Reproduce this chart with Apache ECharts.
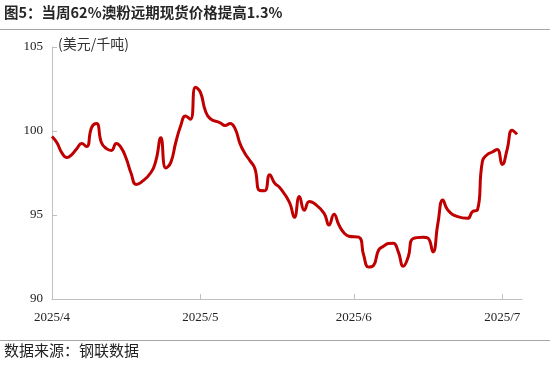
<!DOCTYPE html>
<html><head><meta charset="utf-8">
<script src="https://cdn.jsdelivr.net/npm/echarts@6/dist/echarts.min.js"></script>
<style>html,body{margin:0;padding:0;background:#fff}#c{width:550px;height:367px}</style>
</head><body><div id="c"></div>
<script>
const titleText = '图5：当周62%澳粉远期现货价格提高1.3%';
const unitText = '(美元/千吨)';
const sourceText = '数据来源：钢联数据';
const dates = ['2025-04-01','2025-04-02','2025-04-03','2025-04-04','2025-04-05','2025-04-06','2025-04-07','2025-04-08','2025-04-09','2025-04-10','2025-04-11','2025-04-12','2025-04-13','2025-04-14','2025-04-15','2025-04-16','2025-04-17','2025-04-18','2025-04-19','2025-04-21','2025-04-22','2025-04-23','2025-04-24','2025-04-25','2025-04-26','2025-04-27','2025-04-28','2025-04-29','2025-04-30','2025-05-01','2025-05-02','2025-05-03','2025-05-05','2025-05-06','2025-05-07','2025-05-08','2025-05-09','2025-05-10','2025-05-11','2025-05-12','2025-05-13','2025-05-14','2025-05-15','2025-05-16','2025-05-17','2025-05-19','2025-05-20','2025-05-21','2025-05-22','2025-05-23','2025-05-24','2025-05-26','2025-05-27','2025-05-28','2025-05-29','2025-05-30','2025-05-31','2025-06-02','2025-06-03','2025-06-04','2025-06-05','2025-06-06','2025-06-07','2025-06-08','2025-06-09','2025-06-10','2025-06-11','2025-06-12','2025-06-13','2025-06-15','2025-06-16','2025-06-17','2025-06-18','2025-06-19','2025-06-20','2025-06-22','2025-06-24','2025-06-25','2025-06-26','2025-06-27','2025-06-28','2025-06-29','2025-06-30','2025-07-01','2025-07-02','2025-07-03','2025-07-04'];
const prices = [99.67,99.3,98.7,98.42,98.6,98.95,99.25,99.07,100.2,100.44,99.3,98.95,98.84,99.25,99.0,98.36,97.47,96.82,96.94,97.53,98.24,99.6,97.8,98.12,99.3,100.3,100.9,100.7,102.6,102.3,101.2,100.73,100.49,100.32,100.44,100.14,99.25,98.66,98.24,97.77,96.46,96.45,97.4,96.9,96.64,95.75,94.86,96.1,95.28,95.81,95.69,95.1,94.4,95.05,94.4,93.95,93.74,93.68,92.6,91.9,92.0,92.9,93.14,93.3,93.32,92.8,91.95,92.5,93.6,93.68,93.62,92.8,94.5,95.9,95.3,94.9,94.8,95.2,95.3,98.2,98.6,98.75,98.9,98.0,98.9,100.05,99.8];
const xTickDates = ['2025-04-01','2025-05-01','2025-06-01','2025-07-01'];
const xMin = '2025-04-01', xMax = '2025-07-05';
const yMin = 90, yMax = 105, yStep = 5;

function ts(s){const p=s.split('-').map(Number);return new Date(p[0],p[1]-1,p[2]).getTime();}
const chart = echarts.init(document.getElementById('c'), null, {renderer:'canvas'});
const axisColor = '#bfbfbf';
const serif = '"Liberation Serif","Times New Roman",serif';
const cjk = '"Noto Sans CJK SC",sans-serif';
chart.setOption({
  animation:false,
  backgroundColor:'#fff',
  title:{text:titleText,left:4,top:5,padding:0,textStyle:{fontFamily:cjk,fontSize:14.5,fontWeight:'bold',color:'#262626'}},
  grid:{left:52,right:28,top:47,bottom:68,containLabel:false},
  xAxis:{type:'value',min:ts(xMin),max:ts(xMax),
    axisLine:{lineStyle:{color:axisColor,width:1}},
    axisTick:{show:true,inside:true,length:5,lineStyle:{color:axisColor},customValues:xTickDates.slice(1).map(ts)},
    axisLabel:{customValues:xTickDates.map(ts),margin:12,fontFamily:serif,fontSize:13,color:'#222',
      formatter:function(v){const d=new Date(v);return d.getFullYear()+'/'+(d.getMonth()+1);}},
    splitLine:{show:false}},
  yAxis:{type:'value',min:yMin,max:yMax,interval:yStep,
    axisLine:{show:true,lineStyle:{color:axisColor,width:1}},
    axisTick:{show:true,inside:true,length:5,lineStyle:{color:axisColor}},
    axisLabel:{margin:9,fontFamily:serif,fontSize:13,color:'#222'},
    splitLine:{show:false}},
  series:[{type:'line',data:dates.map((d,i)=>[ts(d),prices[i]]),smooth:0.5,showSymbol:false,
    lineStyle:{color:'#C00000',width:3},itemStyle:{color:'#C00000'}}],
  graphic:[
    {type:'line',shape:{x1:0,y1:29.5,x2:550,y2:29.5},style:{stroke:'#a6a6a6',lineWidth:1}},
    {type:'line',shape:{x1:0,y1:340.5,x2:550,y2:340.5},style:{stroke:'#a6a6a6',lineWidth:1}},
    {type:'text',left:58,top:37,style:{text:unitText,font:'14px '+cjk,fill:'#333'}},
    {type:'text',left:4,top:343,style:{text:sourceText,font:'15px '+cjk,fill:'#222'}}
  ]
});
</script></body></html>
